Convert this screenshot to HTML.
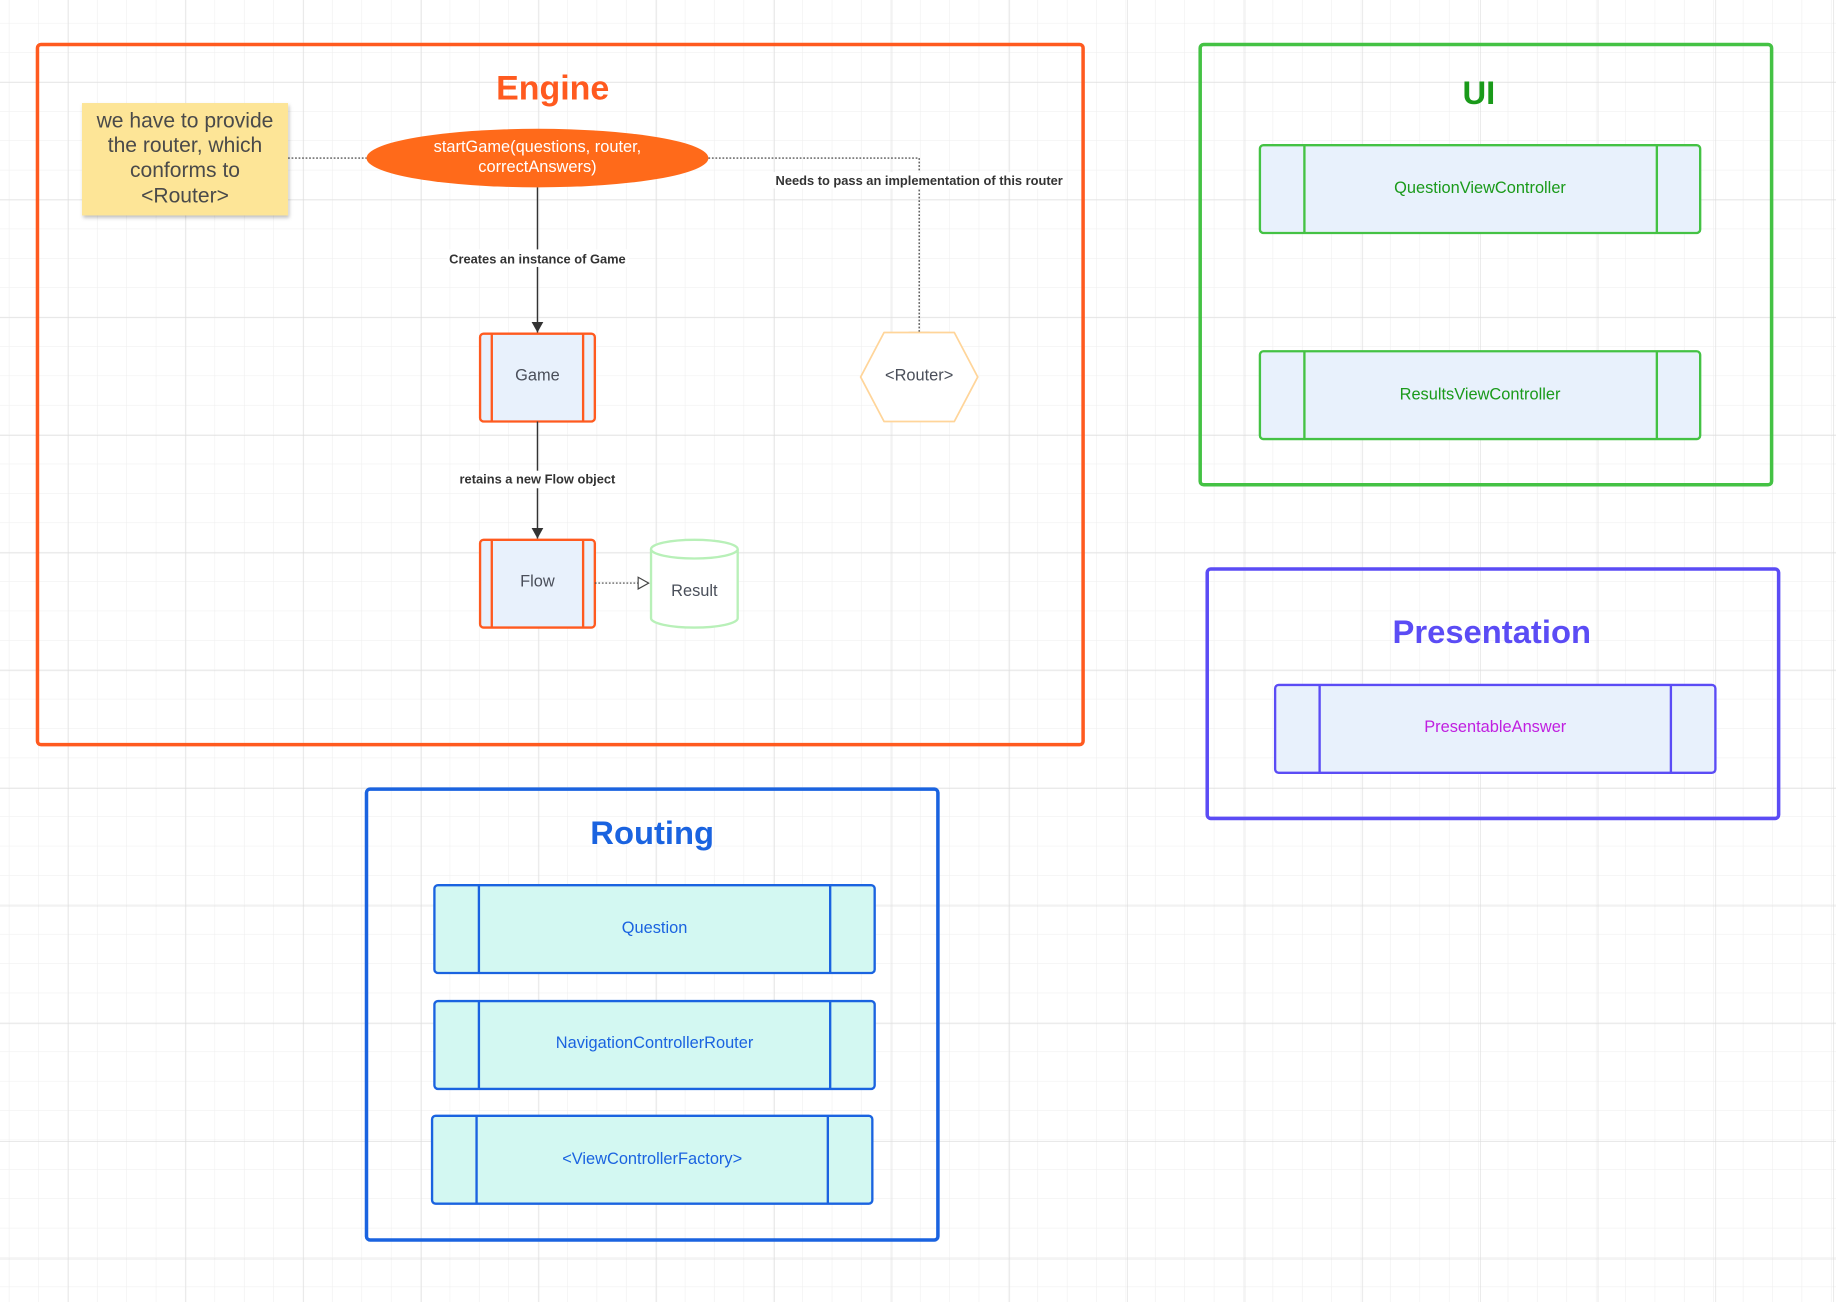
<!DOCTYPE html>
<html><head><meta charset="utf-8"><style>
html,body{margin:0;padding:0;background:#fff;}
svg{display:block;}
text{font-family:"Liberation Sans",sans-serif;}
</style></head><body>
<svg width="1836" height="1302" viewBox="0 0 1568 1112" preserveAspectRatio="none" xmlns="http://www.w3.org/2000/svg">
<defs>
<pattern id="minor" width="25.1" height="25.1" patternUnits="userSpaceOnUse" x="8" y="20">
<path d="M25.1 0V25.1H0" fill="none" stroke="#eeeeee" stroke-width="0.9"/>
</pattern>
<pattern id="major" width="100.5" height="100.5" patternUnits="userSpaceOnUse" x="58" y="70">
<path d="M0 0V100.5M0 0H100.5" fill="none" stroke="#dcdcdc" stroke-width="1"/>
</pattern>
<marker id="ah" markerWidth="10" markerHeight="10" refX="9" refY="5" orient="auto" markerUnits="userSpaceOnUse">
<path d="M0 0L9 5L0 10z" fill="#333"/>
</marker>
<marker id="oh" markerWidth="12" markerHeight="12" refX="10" refY="6" orient="auto" markerUnits="userSpaceOnUse">
<path d="M1 1L10 6L1 11z" fill="#fff" stroke="#444" stroke-width="1"/>
</marker>
<filter id="sh" x="-10%" y="-10%" width="130%" height="130%"><feDropShadow dx="1" dy="2" stdDeviation="1.5" flood-color="#000" flood-opacity="0.25"/></filter>
</defs>
<rect width="1568" height="1112" fill="#fff"/>
<rect width="1568" height="1112" fill="url(#minor)"/>
<rect width="1568" height="1112" fill="url(#major)"/>

<!-- Engine -->
<rect x="32" y="38" width="893" height="598" rx="3" fill="none" stroke="#ff5a1f" stroke-width="3"/>
<text x="472" y="85" text-anchor="middle" font-size="29" font-weight="bold" fill="#ff5a1f">Engine</text>

<rect x="70" y="88" width="176" height="96" fill="#fde597" filter="url(#sh)"/>
<g font-size="18" fill="#4a4a4a" text-anchor="middle">
<text x="158" y="109">we have to provide</text>
<text x="158" y="130">the router, which</text>
<text x="158" y="151">conforms to</text>
<text x="158" y="173">&lt;Router&gt;</text>
</g>
<line x1="246" y1="135" x2="313" y2="135" stroke="#333" stroke-width="1" stroke-dasharray="1.5,1.5"/>

<ellipse cx="459" cy="135" rx="146" ry="25" fill="#ff6a1a"/>
<text x="459" y="130" text-anchor="middle" font-size="14" fill="#fff">startGame(questions, router,</text>
<text x="459" y="147" text-anchor="middle" font-size="14" fill="#fff">correctAnswers)</text>

<path d="M605 135H785V284" fill="none" stroke="#333" stroke-width="1" stroke-dasharray="1.5,1.5"/>
<line x1="776" y1="284" x2="794" y2="284" stroke="#444" stroke-width="1.2"/>
<rect x="660" y="147" width="250" height="14" fill="#fff"/>
<text x="785" y="158" text-anchor="middle" font-size="11" font-weight="bold" fill="#333">Needs to pass an implementation of this router</text>

<line x1="459" y1="160" x2="459" y2="284" stroke="#333" stroke-width="1.2" marker-end="url(#ah)"/>
<rect x="382" y="213" width="155" height="15" fill="#fff"/>
<text x="459" y="225" text-anchor="middle" font-size="11" font-weight="bold" fill="#333">Creates an instance of Game</text>

<rect x="410" y="285" width="98" height="75" rx="3" fill="#e8f1fc" stroke="#ff5a1f" stroke-width="2"/>
<line x1="420" y1="285" x2="420" y2="360" stroke="#ff5a1f" stroke-width="2"/>
<line x1="498" y1="285" x2="498" y2="360" stroke="#ff5a1f" stroke-width="2"/>
<text x="459" y="325" text-anchor="middle" font-size="14" fill="#4a4f5a">Game</text>

<polygon points="755,284 815,284 835,322 815,360 755,360 735,322" fill="#fff" stroke="#ffd59a" stroke-width="1.5" stroke-linejoin="round"/>
<text x="785" y="325" text-anchor="middle" font-size="14" fill="#4a4f5a">&lt;Router&gt;</text>

<line x1="459" y1="360" x2="459" y2="460" stroke="#333" stroke-width="1.2" marker-end="url(#ah)"/>
<rect x="390" y="402" width="138" height="15" fill="#fff"/>
<text x="459" y="413" text-anchor="middle" font-size="11" font-weight="bold" fill="#333">retains a new Flow object</text>

<rect x="410" y="461" width="98" height="75" rx="3" fill="#e8f1fc" stroke="#ff5a1f" stroke-width="2"/>
<line x1="420" y1="461" x2="420" y2="536" stroke="#ff5a1f" stroke-width="2"/>
<line x1="498" y1="461" x2="498" y2="536" stroke="#ff5a1f" stroke-width="2"/>
<text x="459" y="501" text-anchor="middle" font-size="14" fill="#4a4f5a">Flow</text>

<line x1="508" y1="498" x2="554" y2="498" stroke="#444" stroke-width="1" stroke-dasharray="1.5,1.5" marker-end="url(#oh)"/>

<path d="M556 469V528A37 8 0 0 0 630 528V469" fill="#fff" stroke="#b8f0b8" stroke-width="2"/>
<ellipse cx="593" cy="469" rx="37" ry="8" fill="#fff" stroke="#b8f0b8" stroke-width="2"/>
<text x="593" y="509" text-anchor="middle" font-size="14" fill="#4a4f5a">Result</text>

<!-- UI -->
<rect x="1025" y="38" width="488" height="376" rx="3" fill="none" stroke="#44c244" stroke-width="3"/>
<text x="1263" y="89" text-anchor="middle" font-size="28" font-weight="bold" fill="#1a9a1a">UI</text>
<g stroke="#44c244" stroke-width="2">
<rect x="1076" y="124" width="376" height="75" rx="3" fill="#e8f1fc"/>
<line x1="1114" y1="124" x2="1114" y2="199"/><line x1="1415" y1="124" x2="1415" y2="199"/>
<rect x="1076" y="300" width="376" height="75" rx="3" fill="#e8f1fc"/>
<line x1="1114" y1="300" x2="1114" y2="375"/><line x1="1415" y1="300" x2="1415" y2="375"/>
</g>
<text x="1264" y="165" text-anchor="middle" font-size="14" fill="#1a9a1a">QuestionViewController</text>
<text x="1264" y="341" text-anchor="middle" font-size="14" fill="#1a9a1a">ResultsViewController</text>

<!-- Presentation -->
<rect x="1031" y="486" width="488" height="213" rx="3" fill="none" stroke="#5b4cf5" stroke-width="3"/>
<text x="1274" y="549" text-anchor="middle" font-size="28" font-weight="bold" fill="#5b4cf5">Presentation</text>
<g stroke="#5b4cf5" stroke-width="2">
<rect x="1089" y="585" width="376" height="75" rx="3" fill="#e8f1fc"/>
<line x1="1127" y1="585" x2="1127" y2="660"/><line x1="1427" y1="585" x2="1427" y2="660"/>
</g>
<text x="1277" y="625" text-anchor="middle" font-size="14" fill="#c020e0">PresentableAnswer</text>

<!-- Routing -->
<rect x="313" y="674" width="488" height="385" rx="3" fill="none" stroke="#1a63e0" stroke-width="3"/>
<text x="557" y="721" text-anchor="middle" font-size="28" font-weight="bold" fill="#1a63e0">Routing</text>
<g stroke="#1a63e0" stroke-width="2" fill="#d3f8f2">
<rect x="371" y="756" width="376" height="75" rx="3"/>
<line x1="409" y1="756" x2="409" y2="831"/><line x1="709" y1="756" x2="709" y2="831"/>
<rect x="371" y="855" width="376" height="75" rx="3"/>
<line x1="409" y1="855" x2="409" y2="930"/><line x1="709" y1="855" x2="709" y2="930"/>
<rect x="369" y="953" width="376" height="75" rx="3"/>
<line x1="407" y1="953" x2="407" y2="1028"/><line x1="707" y1="953" x2="707" y2="1028"/>
</g>
<g font-size="14" fill="#1a63e0" text-anchor="middle">
<text x="559" y="797">Question</text>
<text x="559" y="895">NavigationControllerRouter</text>
<text x="557" y="994">&lt;ViewControllerFactory&gt;</text>
</g>
</svg>
</body></html>
